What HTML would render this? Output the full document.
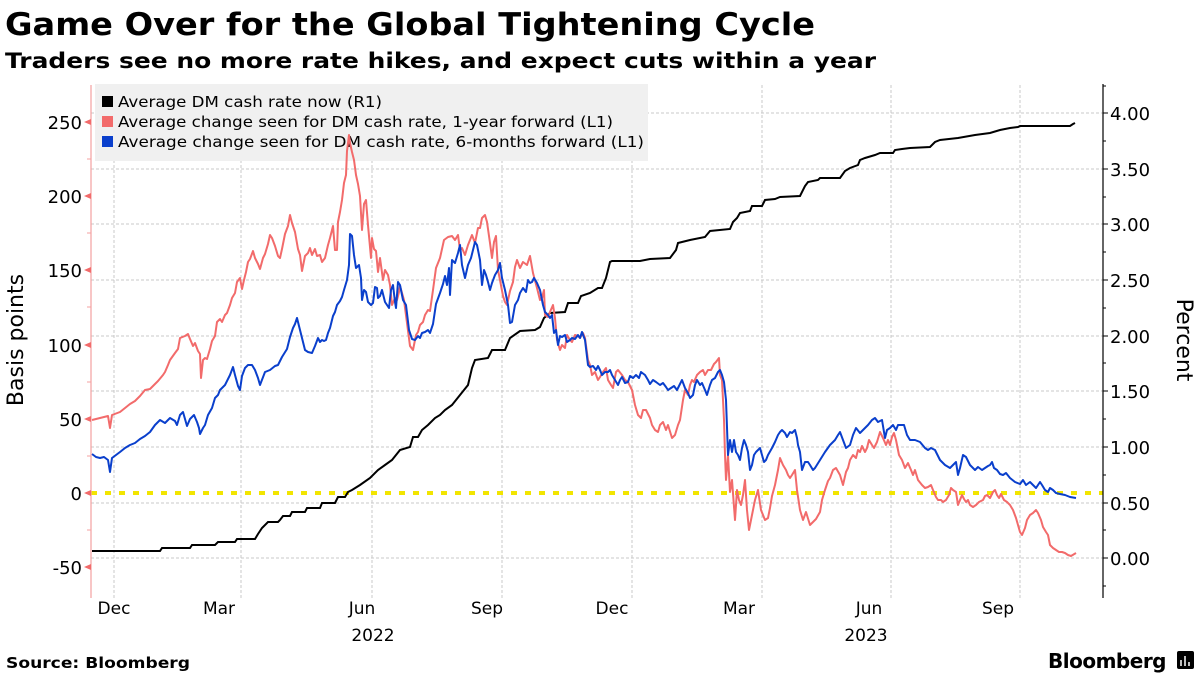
<!DOCTYPE html>
<html><head><meta charset="utf-8"><style>
body{margin:0;background:#fff;}
svg text{font-family:"DejaVu Sans","Liberation Sans",sans-serif;}
</style></head><body>
<svg width="1200" height="675" viewBox="0 0 1200 675" xmlns="http://www.w3.org/2000/svg">
<rect width="1200" height="675" fill="#fff"/>
<text x="5" y="35" font-size="31" font-weight="bold" fill="#000" textLength="810" lengthAdjust="spacingAndGlyphs">Game Over for the Global Tightening Cycle</text>
<text x="5" y="68" font-size="21" font-weight="bold" fill="#000" textLength="871" lengthAdjust="spacingAndGlyphs">Traders see no more rate hikes, and expect cuts within a year</text>
<g stroke="#c8c8c8" stroke-width="1" stroke-dasharray="3,2">
<line x1="91" x2="1103" y1="113" y2="113"/><line x1="91" x2="1103" y1="169" y2="169"/><line x1="91" x2="1103" y1="224" y2="224"/><line x1="91" x2="1103" y1="280" y2="280"/><line x1="91" x2="1103" y1="336" y2="336"/><line x1="91" x2="1103" y1="391" y2="391"/><line x1="91" x2="1103" y1="447" y2="447"/><line x1="91" x2="1103" y1="503" y2="503"/><line x1="91" x2="1103" y1="558" y2="558"/>
<line x1="114" x2="114" y1="85" y2="598"/><line x1="241" x2="241" y1="85" y2="598"/><line x1="372" x2="372" y1="85" y2="598"/><line x1="502" x2="502" y1="85" y2="598"/><line x1="632" x2="632" y1="85" y2="598"/><line x1="762" x2="762" y1="85" y2="598"/><line x1="891" x2="891" y1="85" y2="598"/><line x1="1020" x2="1020" y1="85" y2="598"/>
</g>
<rect x="95" y="84" width="553" height="77" fill="#f0f0f0"/>
<rect x="102" y="96" width="11" height="11" fill="#000"/><text x="118" y="107" font-size="15" textLength="264" lengthAdjust="spacingAndGlyphs">Average DM cash rate now (R1)</text>
<rect x="102" y="116" width="11" height="11" fill="#f26b6b"/><text x="118" y="127" font-size="15" textLength="495" lengthAdjust="spacingAndGlyphs">Average change seen for DM cash rate, 1-year forward (L1)</text>
<rect x="102" y="136" width="11" height="11" fill="#0a3fcc"/><text x="118" y="147" font-size="15" textLength="526" lengthAdjust="spacingAndGlyphs">Average change seen for DM cash rate, 6-months forward (L1)</text>
<line x1="91" x2="1103" y1="493" y2="493" stroke="#f2e500" stroke-width="4" stroke-dasharray="6,8"/>
<polyline fill="none" stroke="#000" stroke-width="2" points="92,551 160,551 162,548 190,548 192,545 215,545 218,542 235,542 237,539 255,539 258,534 262,528 268,522 278,522 280,520 283,516 290,516 292,512 305,512 307,508 320,508 322,503 335,503 338,497 345,497 348,492 352,490 360,485 370,478 378,470 385,465 392,460 400,450 410,447 413,437 418,437 422,430 428,425 435,418 440,415 445,410 452,405 460,395 468,385 472,368 475,360 488,358 492,350 505,350 510,338 520,331 535,330 540,327 544,318 550,313 565,312 568,303 578,303 581,296 590,293 598,288 602,288 606,278 610,262 612,261 640,261 650,259 670,258 676,250 678,243 690,240 705,237 710,231 730,229 733,222 737,218 740,213 750,211 752,206 762,206 765,200 775,199 780,197 800,196 805,186 808,182 818,180 820,178 840,178 845,171 850,168 858,165 860,160 865,158 875,155 880,153 893,153 895,150 902,149 910,148 930,147 935,142 940,140 958,138 975,135 990,133 1000,130 1010,128 1018,127 1020,126 1070,126 1073,124 1075,123"/>
<polyline fill="none" stroke="#f26b6b" stroke-width="2" stroke-linejoin="round" points="92,420 100,418 108,416 110,428 112,415 120,412 130,404 135,401 140,396 145,390 150,389 155,384 158,381 163,375 165,372 168,365 170,360 175,353 178,349 180,338 185,336 188,334 190,339 193,346 195,343 198,351 200,354 201,378 203,360 205,358 207,359 210,349 212,341 215,336 217,322 220,319 222,322 225,315 227,313 230,305 232,298 235,293 237,282 240,278 242,289 244,280 246,272 248,262 250,259 253,251 255,258 258,264 260,269 263,258 265,254 268,244 270,235 272,238 275,246 278,256 280,258 282,249 285,234 288,226 290,215 292,223 295,232 298,249 300,255 302,271 305,256 308,253 310,248 312,255 315,249 317,256 320,255 322,262 325,258 328,245 330,238 333,226 335,250 337,250 338,222 340,212 342,200 344,183 346,175 347,151 349,135 350,143 352,152 354,160 356,175 358,184 360,196 362,230 364,204 366,200 368,225 371,258 372,238 374,249 376,251 378,272 380,258 383,280 385,270 388,275 390,285 392,305 395,298 397,300 399,292 400,286 404,300 410,346 413,350 416,335 418,332 420,325 423,322 425,315 428,310 430,311 433,290 436,268 440,258 444,240 448,237 452,236 455,240 458,235 460,250 462,248 465,255 468,245 472,235 475,243 478,228 480,228 482,218 485,215 487,222 490,243 492,258 494,242 496,236 498,270 500,280 503,296 505,302 507,305 510,291 513,282 515,267 517,260 520,268 523,262 527,265 530,256 533,273 537,288 540,300 542,298 544,290 545,315 548,317 550,312 553,305 555,318 557,340 560,350 562,345 565,348 567,335 570,340 572,342 575,335 578,336 580,338 583,333 585,338 588,360 590,365 592,375 595,372 598,380 600,377 603,372 606,368 608,380 611,385 613,388 616,372 618,370 622,375 625,380 628,382 632,390 635,405 638,415 641,418 643,410 646,410 650,418 652,425 655,430 658,432 660,425 663,422 666,430 668,425 672,438 675,435 678,425 680,420 683,400 685,390 688,395 690,385 692,380 694,382 697,375 700,372 703,370 705,375 708,370 711,370 714,364 716,362 719,358 720,375 722,380 724,420 725,455 726,480 728,455 730,492 732,480 735,520 737,490 739,500 741,505 743,495 745,480 747,510 749,530 752,515 755,500 758,490 761,510 765,520 768,518 770,508 772,496 775,485 778,470 780,458 783,465 786,470 788,475 790,478 792,475 795,470 797,490 800,510 803,520 806,512 810,525 813,522 816,519 820,512 822,500 825,490 828,481 830,478 833,470 836,468 840,475 843,485 846,472 848,468 850,460 853,455 856,458 858,450 860,452 862,446 865,452 867,448 869,440 872,445 874,448 877,442 880,432 883,438 886,445 888,440 890,445 892,437 894,433 896,440 899,455 902,460 905,468 908,463 911,470 913,475 915,470 918,480 922,485 925,488 928,487 931,485 933,490 936,497 938,500 941,500 943,502 946,500 949,495 951,488 953,490 956,492 958,505 960,500 962,495 964,499 966,502 968,500 970,505 973,507 976,505 979,502 983,500 985,496 987,495 990,498 993,492 995,490 997,495 999,498 1001,494 1004,500 1007,502 1010,505 1013,510 1016,518 1018,525 1020,532 1022,535 1025,528 1027,520 1030,515 1033,513 1036,510 1038,513 1041,520 1043,527 1046,532 1048,535 1050,545 1053,548 1056,550 1059,552 1062,552 1065,553 1068,555 1071,556 1076,553"/>
<polyline fill="none" stroke="#0a3fcc" stroke-width="2" stroke-linejoin="round" points="92,454 96,457 100,458 104,457 108,460 110,472 112,458 116,455 120,452 125,448 130,445 135,443 140,439 145,436 150,432 155,425 160,420 165,423 170,418 175,421 177,425 180,415 183,412 185,419 187,426 190,419 194,415 197,422 199,428 200,434 203,428 205,425 208,415 212,408 215,398 218,395 220,390 225,385 230,375 233,367 235,375 238,386 240,390 242,376 245,368 248,365 252,365 255,370 258,378 260,385 265,372 270,370 275,366 278,365 282,357 287,349 290,337 293,328 295,324 297,318 300,330 302,338 305,350 308,352 312,353 315,346 318,338 320,342 322,340 324,341 326,340 328,333 330,328 333,316 335,312 337,305 340,301 342,297 344,290 347,280 349,265 350,234 352,236 354,255 356,268 359,265 361,278 362,300 364,290 366,292 368,302 371,305 373,303 375,287 377,288 378,298 380,296 382,290 385,302 387,305 389,308 391,290 393,285 395,302 396,308 398,282 400,285 403,300 406,305 409,330 412,339 415,340 418,336 420,338 422,333 425,332 428,330 430,333 433,324 436,304 440,293 443,284 445,276 447,285 449,268 450,295 452,260 455,263 458,253 460,245 462,265 465,278 468,265 471,258 475,242 477,245 480,260 482,285 484,270 486,275 488,282 490,290 492,283 495,275 498,270 500,263 502,278 505,290 508,305 510,323 512,322 515,305 518,300 520,293 523,288 526,292 528,280 530,283 532,282 534,278 537,283 540,290 543,305 545,312 548,315 550,318 552,315 554,333 556,330 558,345 560,336 562,337 565,335 567,342 570,340 572,338 575,339 578,335 580,338 582,332 585,340 588,365 590,367 593,366 596,370 598,366 600,370 602,375 605,372 608,372 610,370 612,375 615,380 618,385 620,380 622,377 625,383 628,382 630,376 633,378 636,375 639,378 641,372 645,375 648,380 650,384 653,380 656,382 660,385 663,383 666,387 668,390 671,388 674,386 677,390 680,384 682,380 685,388 688,393 690,398 693,395 695,385 697,380 700,385 702,383 705,390 707,395 710,385 712,380 715,378 718,372 720,370 722,375 724,382 726,400 728,455 730,440 732,452 734,440 736,452 738,455 740,460 742,448 744,440 746,445 748,452 750,470 752,465 754,455 756,452 758,450 760,448 762,455 764,462 766,460 768,455 772,448 775,442 778,435 780,432 782,430 785,433 787,437 790,432 792,433 795,430 797,438 798,445 800,452 802,470 805,462 808,462 810,465 813,470 815,468 820,460 825,452 830,445 835,440 838,435 840,432 843,440 846,448 850,445 853,435 856,428 860,433 865,428 868,425 872,420 875,418 878,422 882,420 885,438 887,430 890,428 893,425 896,430 898,425 901,425 904,425 907,435 910,440 915,440 920,442 925,448 928,450 931,448 935,450 940,460 945,465 950,468 953,465 956,462 958,475 960,468 963,455 966,457 970,465 975,470 978,467 982,470 985,468 988,466 990,465 992,462 994,468 997,470 1000,474 1003,475 1006,473 1010,478 1015,482 1020,484 1023,480 1026,485 1030,482 1033,485 1036,488 1040,482 1042,485 1045,490 1048,492 1050,488 1053,490 1056,493 1060,494 1065,495 1070,497 1076,498"/>
<line x1="91" x2="91" y1="85" y2="598" stroke="#f4a0a0" stroke-width="1.2"/>
<g fill="#f26b6b">
<polygon points="84,122 91,119 91,125"/><polygon points="84,196 91,193 91,199"/><polygon points="84,270 91,267 91,273"/><polygon points="84,345 91,342 91,348"/><polygon points="84,419 91,416 91,422"/><polygon points="84,493 91,490 91,496"/><polygon points="84,567 91,564 91,570"/>
</g>
<g stroke="#f4a0a0"><line x1="87" x2="91" y1="159" y2="159"/><line x1="87" x2="91" y1="233" y2="233"/><line x1="87" x2="91" y1="307" y2="307"/><line x1="87" x2="91" y1="382" y2="382"/><line x1="87" x2="91" y1="456" y2="456"/><line x1="87" x2="91" y1="530" y2="530"/></g>
<g font-size="18" text-anchor="end" fill="#000">
<text x="82" y="129">250</text><text x="82" y="203">200</text><text x="82" y="277">150</text><text x="82" y="352">100</text><text x="82" y="426">50</text><text x="82" y="500">0</text><text x="82" y="574">-50</text>
</g>
<text transform="translate(23,340) rotate(-90)" font-size="22" text-anchor="middle">Basis points</text>
<line x1="1103" x2="1103" y1="84" y2="598" stroke="#000" stroke-width="1.2"/>
<g stroke="#000"><line x1="1103" x2="1108" y1="113" y2="113"/><line x1="1103" x2="1108" y1="169" y2="169"/><line x1="1103" x2="1108" y1="224" y2="224"/><line x1="1103" x2="1108" y1="280" y2="280"/><line x1="1103" x2="1108" y1="336" y2="336"/><line x1="1103" x2="1108" y1="391" y2="391"/><line x1="1103" x2="1108" y1="447" y2="447"/><line x1="1103" x2="1108" y1="503" y2="503"/><line x1="1103" x2="1108" y1="558" y2="558"/>
<line x1="1103" x2="1106" y1="141" y2="141"/><line x1="1103" x2="1106" y1="197" y2="197"/><line x1="1103" x2="1106" y1="252" y2="252"/><line x1="1103" x2="1106" y1="308" y2="308"/><line x1="1103" x2="1106" y1="363" y2="363"/><line x1="1103" x2="1106" y1="419" y2="419"/><line x1="1103" x2="1106" y1="475" y2="475"/><line x1="1103" x2="1106" y1="530" y2="530"/><line x1="1103" x2="1106" y1="586" y2="586"/><line x1="1103" x2="1106" y1="86" y2="86"/></g>
<g font-size="18" fill="#000">
<text x="1110" y="120">4.00</text><text x="1110" y="176">3.50</text><text x="1110" y="231">3.00</text><text x="1110" y="287">2.50</text><text x="1110" y="343">2.00</text><text x="1110" y="398">1.50</text><text x="1110" y="454">1.00</text><text x="1110" y="510">0.50</text><text x="1110" y="565">0.00</text>
</g>
<text transform="translate(1177,340) rotate(90)" font-size="22" text-anchor="middle">Percent</text>
<g font-size="17" text-anchor="middle" fill="#000">
<text x="114" y="614">Dec</text><text x="219" y="614">Mar</text><text x="362" y="614">Jun</text><text x="487" y="614">Sep</text><text x="612" y="614">Dec</text><text x="739" y="614">Mar</text><text x="869" y="614">Jun</text><text x="998" y="614">Sep</text>
<text x="373" y="641">2022</text><text x="866" y="641">2023</text>
</g>
<text x="6" y="668" font-size="15" font-weight="bold" textLength="184" lengthAdjust="spacingAndGlyphs">Source: Bloomberg</text>
<text x="1166" y="668" font-size="20" font-weight="bold" text-anchor="end" letter-spacing="-0.5">Bloomberg</text>
<rect x="1177" y="651" width="17" height="18" rx="2" fill="#000"/>
<g stroke="#fff" stroke-width="1.5"><line x1="1181" x2="1181" y1="660" y2="666"/><line x1="1185" x2="1185" y1="656" y2="666"/><line x1="1189" x2="1189" y1="662" y2="666"/></g>
</svg>
</body></html>
